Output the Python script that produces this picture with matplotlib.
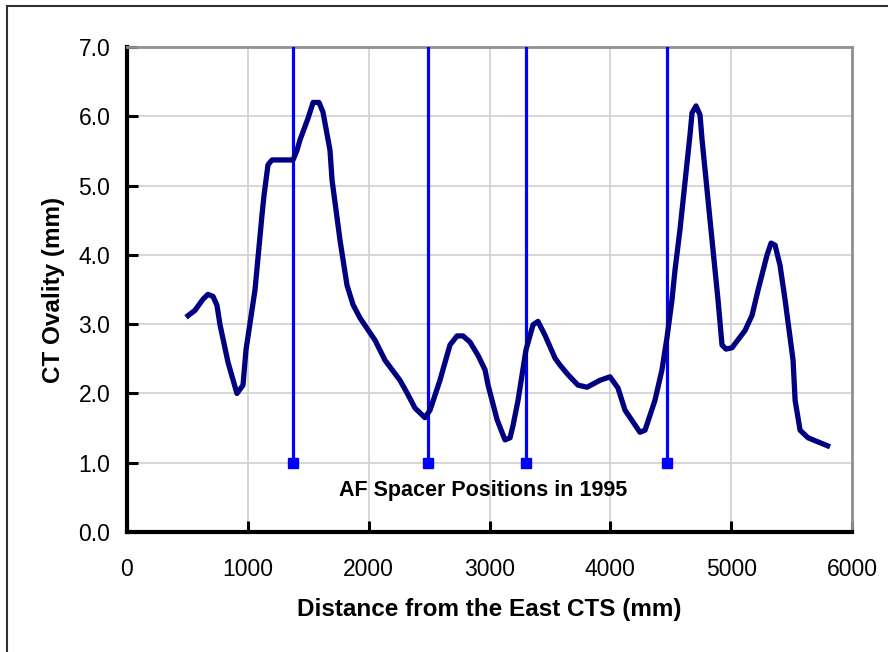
import matplotlib
matplotlib.use("Agg")
import matplotlib.pyplot as plt
from matplotlib.patches import Rectangle

plt.rcParams['font.family'] = ['Liberation Sans', 'DejaVu Sans']

# Ovality curve
dist = [488, 563, 629, 670, 712, 745, 770, 836, 910, 960, 985, 1059, 1117, 1134, 1167, 1200,
        1374, 1407, 1432, 1498, 1540, 1589, 1622, 1680, 1697, 1763, 1821, 1871, 1928,
        2052, 2135, 2259, 2317, 2383, 2466, 2508, 2590, 2673, 2731, 2781, 2839, 2905,
        2963, 2988, 3063, 3128, 3170, 3195, 3236, 3302, 3360, 3401, 3459, 3542, 3583,
        3650, 3732, 3807, 3914, 3997, 4063, 4121, 4245, 4287, 4369, 4427, 4469, 4510,
        4535, 4576, 4659, 4676, 4709, 4742, 4759, 4825, 4891, 4924, 4957, 5007, 5115,
        5173, 5222, 5297, 5330, 5363, 5404, 5446, 5512, 5529, 5570, 5636, 5818]
ovality = [3.10, 3.20, 3.36, 3.43, 3.40, 3.27, 2.99, 2.45, 2.00, 2.12, 2.63, 3.49, 4.57, 4.86, 5.30, 5.37,
           5.37, 5.51, 5.66, 5.97, 6.20, 6.20, 6.06, 5.51, 5.08, 4.21, 3.56, 3.28, 3.09,
           2.77, 2.48, 2.19, 2.01, 1.79, 1.65, 1.76, 2.19, 2.70, 2.83, 2.83, 2.74, 2.55,
           2.34, 2.12, 1.62, 1.33, 1.36, 1.54, 1.90, 2.63, 2.99, 3.04, 2.84, 2.51, 2.41,
           2.27, 2.12, 2.09, 2.19, 2.24, 2.08, 1.76, 1.44, 1.47, 1.90, 2.34, 2.81, 3.35,
           3.78, 4.36, 5.73, 6.05, 6.15, 6.02, 5.66, 4.50, 3.35, 2.70, 2.64, 2.66, 2.91,
           3.13, 3.49, 4.00, 4.17, 4.14, 3.85, 3.35, 2.48, 1.90, 1.47, 1.36, 1.23]

# AF spacer positions in 1995
spacer_x = [1374, 2491, 3302, 4469]
spacer_y = [1.0, 1.0, 1.0, 1.0]
spacer_top = 7.0

x_ticks = [0, 1000, 2000, 3000, 4000, 5000, 6000]
y_ticks = [0.0, 1.0, 2.0, 3.0, 4.0, 5.0, 6.0, 7.0]

fig = plt.figure(figsize=(8.88, 6.52), dpi=100)
ax = fig.add_axes([0.1430, 0.1840, 0.8165, 0.7439])

ax.set_xlim(0, 6000)
ax.set_ylim(0, 7.0)
ax.set_xticks(x_ticks)
ax.set_yticks(y_ticks)
ax.set_xticklabels([str(t) for t in x_ticks])
ax.set_yticklabels([f"{t:.1f}" for t in y_ticks])

ax.grid(True, color='#d0d0d0', linewidth=1.2)
ax.set_axisbelow(True)

for sx, sy in zip(spacer_x, spacer_y):
    ax.plot([sx, sx], [sy, spacer_top], color='#0000ff', linewidth=2.3, zorder=3)
ax.plot(spacer_x, spacer_y, linestyle='none', marker='s', markersize=7,
        color='#0000ff', zorder=4)

ax.plot(dist, ovality, color='#000080', linewidth=3.8, solid_joinstyle='round',
        solid_capstyle='butt', zorder=5)

ax.text(2946, 0.60, 'AF Spacer Positions in 1995', ha='center', va='center',
        fontsize=15.5, fontweight='bold', color='black')

ax.set_xlabel('Distance from the East CTS (mm)', fontsize=17.5, fontweight='bold', labelpad=12)
ax.set_ylabel('CT Ovality (mm)', fontsize=17.5, fontweight='bold', labelpad=10)

ax.tick_params(axis='both', direction='in', length=8, width=2.2, labelsize=16.5, color='black')
ax.tick_params(axis='x', pad=19)
ax.tick_params(axis='y', pad=12)

for s in ['left', 'bottom']:
    ax.spines[s].set_color('black')
    ax.spines[s].set_linewidth(3)
for s in ['top', 'right']:
    ax.spines[s].set_color('#909090')
    ax.spines[s].set_linewidth(2)

# figure border
fig.patches.append(Rectangle((7/888, -0.1), 1.2, (1 - 6/652) + 0.1, transform=fig.transFigure,
                             fill=False, edgecolor='#303030', linewidth=1.5))

fig.savefig('out.png', dpi=100)
